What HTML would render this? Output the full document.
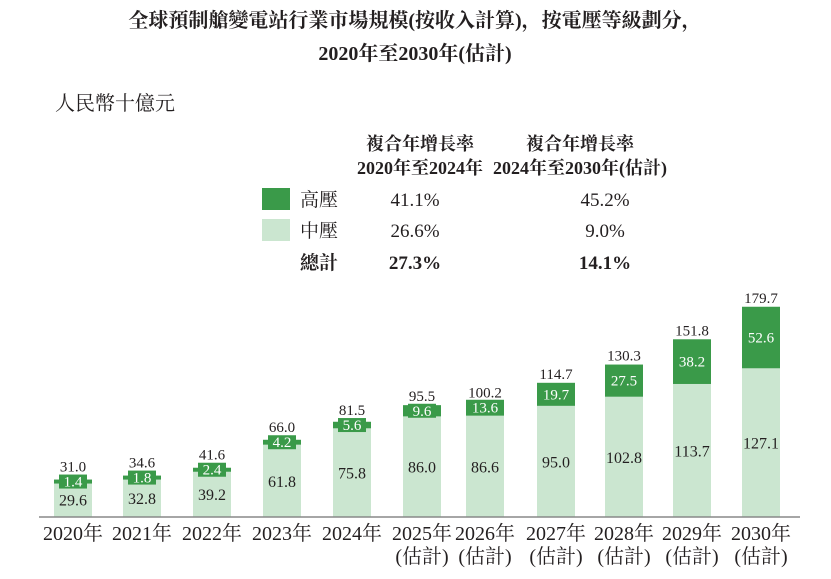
<!DOCTYPE html><html><head><meta charset="utf-8"><style>
body{margin:0;background:#fff;width:831px;height:574px;overflow:hidden}
svg text{font-family:"Liberation Serif","Noto Serif CJK SC",serif;fill:#231f20}
</style></head><body>
<svg width="831" height="574" viewBox="0 0 831 574">
<text x="415" y="27" font-size="20" font-weight="bold" text-anchor="middle">全球預制艙變電站行業市場規模(按收入計算)，按電壓等級劃分，</text>
<text x="415" y="60" font-size="20" font-weight="bold" text-anchor="middle">2020年至2030年(估計)</text>
<text x="55" y="110" font-size="20">人民幣十億元</text>
<text x="420" y="150" font-size="18" font-weight="bold" text-anchor="middle">複合年增長率</text>
<text x="420" y="174" font-size="18" font-weight="bold" text-anchor="middle">2020年至2024年</text>
<text x="580" y="150" font-size="18" font-weight="bold" text-anchor="middle">複合年增長率</text>
<text x="580" y="174" font-size="18" font-weight="bold" text-anchor="middle">2024年至2030年(估計)</text>
<rect x="262" y="188" width="28" height="22" fill="#3a9a49"/>
<rect x="262" y="219" width="28" height="22" fill="#cbe6d0"/>
<text x="300" y="206" font-size="19">高壓</text>
<text x="300" y="237" font-size="19">中壓</text>
<text x="300" y="269" font-size="19" font-weight="bold">總計</text>
<text x="415" y="206" font-size="19" text-anchor="middle">41.1%</text>
<text x="415" y="237" font-size="19" text-anchor="middle">26.6%</text>
<text x="415" y="269" font-size="19" font-weight="bold" text-anchor="middle">27.3%</text>
<text x="605" y="206" font-size="19" text-anchor="middle">45.2%</text>
<text x="605" y="237" font-size="19" text-anchor="middle">9.0%</text>
<text x="605" y="269" font-size="19" font-weight="bold" text-anchor="middle">14.1%</text>
<g id="bars"></g>
<line x1="39" y1="517" x2="800" y2="517" stroke="#888" stroke-width="1.5"/>
</svg>
<script>
const d=[[29.6,1.4,"31.0"],[32.8,1.8,"34.6"],[39.2,2.4,"41.6"],[61.8,4.2,"66.0"],[75.8,5.6,"81.5"],[86.0,9.6,"95.5"],[86.6,13.6,"100.2"],[95.0,19.7,"114.7"],[102.8,27.5,"130.3"],[113.7,38.2,"151.8"],[127.1,52.6,"179.7"]];
const cx=[73,142,212,282,352,422,485,556,624,692,761];
const g=document.getElementById('bars');let h='';const s=1.17,B=517,w=38;
d.forEach((v,i)=>{const x=cx[i]-w/2;const mh=v[0]*s,hh=v[1]*s;const mt=B-mh,ht=mt-hh;
h+=`<rect x="${x}" y="${mt}" width="${w}" height="${mh}" fill="#cbe6d0"/>`;
h+=`<rect x="${x}" y="${ht}" width="${w}" height="${hh}" fill="#3a9a49"/>`;
if(hh<18){const cy=(ht+mt)/2;h+=`<rect x="${cx[i]-14}" y="${cy-7}" width="28" height="14" fill="#3a9a49"/><rect x="${x}" y="${cy-2}" width="${w}" height="4" fill="#3a9a49"/>`;
h+=`<text x="${cx[i]}" y="${cy+5}" font-size="15" text-anchor="middle" style="fill:#fff">${v[1].toFixed(1)}</text>`;
h+=`<text x="${cx[i]}" y="${cy-10}" font-size="15" text-anchor="middle">${v[2]}</text>`;}
else{h+=`<text x="${cx[i]}" y="${ht+hh/2+5}" font-size="15" text-anchor="middle" style="fill:#fff">${v[1].toFixed(1)}</text>`;
h+=`<text x="${cx[i]}" y="${ht-4}" font-size="15" text-anchor="middle">${v[2]}</text>`;}
h+=`<text x="${cx[i]}" y="${mt+mh/2+6}" font-size="16" text-anchor="middle">${v[0].toFixed(1)}</text>`;
h+=`<text x="${cx[i]}" y="540" font-size="20" text-anchor="middle">${2020+i}年</text>`;
if(i>=5)h+=`<text x="${cx[i]}" y="563" font-size="20" text-anchor="middle">(估計)</text>`;});
g.innerHTML=h;
</script>
</body></html>
